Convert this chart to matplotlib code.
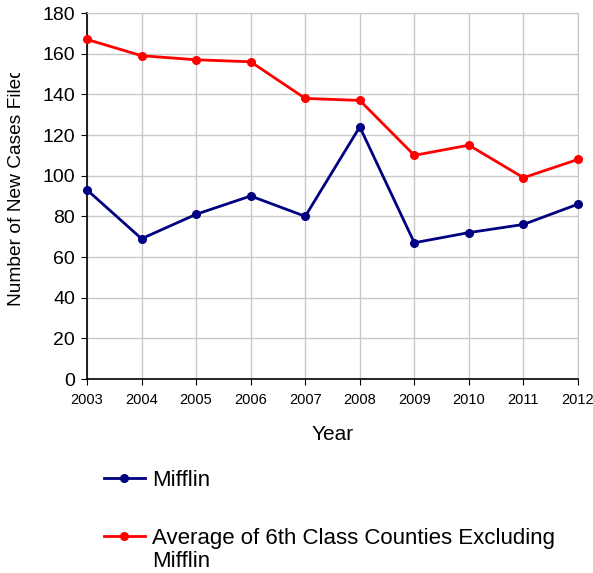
import matplotlib.pyplot as plt
from matplotlib.transforms import Bbox, TransformedBbox

plt.rcParams['font.family'] = ['Liberation Sans', 'DejaVu Sans']

years = [2003, 2004, 2005, 2006, 2007, 2008, 2009, 2010, 2011, 2012]
mifflin = [93, 69, 81, 90, 80, 124, 67, 72, 76, 86]
avg_6th = [167, 159, 157, 156, 138, 137, 110, 115, 99, 108]

W, H = 593, 573
fig = plt.figure(figsize=(W / 100, H / 100), dpi=100)
# axes box in pixels: left 87, right 578, top 13, bottom 379
ax = fig.add_axes([87 / W, 1 - 379 / H, (578 - 87) / W, (379 - 13) / H])

l1, = ax.plot(years, mifflin, color='#000080', lw=2, marker='o', ms=5.5,
              clip_on=False, zorder=3, label='Mifflin')
l2, = ax.plot(years, avg_6th, color='#FF0000', lw=2, marker='o', ms=5.5,
              clip_on=False, zorder=3,
              label='Average of 6th Class Counties Excluding')

ax.set_xlim(2003, 2012)
ax.set_ylim(0, 180)
ax.set_xticks(years)
ax.set_yticks(range(0, 181, 20))
ax.tick_params(axis='x', labelsize=10.5, length=4, direction='out', pad=6)
ax.tick_params(axis='y', labelsize=14, length=4.5, direction='out', pad=4)
ax.grid(True, color='#C8C8C8', lw=1)
ax.set_axisbelow(True)
for s in ['top', 'right']:
    ax.spines[s].set_color('#C8C8C8')
for s in ['left', 'bottom']:
    ax.spines[s].set_color('black')
    ax.spines[s].set_linewidth(1.2)

ax.set_xlabel('Year', fontsize=15, labelpad=13)
ylab = ax.set_ylabel('Number of New Cases Filed', fontsize=13.8)
ax.yaxis.set_label_coords(-0.126, 0.525)
# the label is cut off at the top in the original
ylab.set_clip_on(True)
ylab.set_clip_box(TransformedBbox(Bbox([[0, 0], [1, 1 - 73 / H]]), fig.transFigure))

leg = fig.legend(handles=[l1, l2], loc='upper left',
                 bbox_to_anchor=(95 / W, 1 - 461 / H), frameon=False,
                 fontsize=16, handlelength=1.85, handletextpad=0.32,
                 labelspacing=1.65, borderaxespad=0)
fig.canvas.draw()
bb = leg.get_texts()[1].get_window_extent()
fig.text(bb.x0, bb.y0 - 2, 'Mifflin', fontsize=16, ha='left', va='top',
         transform=None)

fig.savefig('out.png', dpi=100)
